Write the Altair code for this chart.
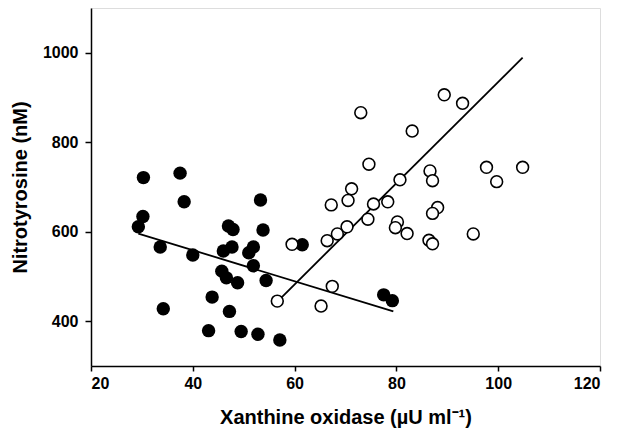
import altair as alt
import pandas as pd

# Filled circles (group 1)
filled_x = [30.3, 37.5, 38.3, 30.2, 29.3, 33.6, 40.0, 53.3, 47.0, 47.9, 53.8, 47.7, 46.0, 51.9, 51.0,
            51.9, 45.7, 46.6, 48.8, 54.4, 61.5, 43.8, 34.2, 47.2, 43.1, 49.5, 52.8, 57.1, 77.5, 79.2]
filled_y = [721, 731, 667, 634, 611, 566, 548, 671, 613, 605, 604, 566, 557, 566, 553,
            524, 512, 497, 486, 491, 571, 454, 428, 422, 379, 377, 371, 358, 459, 446]

# Open circles (group 2)
open_x = [73.0, 89.4, 93.0, 83.1, 74.6, 86.6, 87.1, 97.7, 104.8, 99.7, 80.7, 71.2, 70.5, 67.2, 75.5,
          78.3, 74.4, 70.3, 68.4, 66.4, 59.5, 88.1, 87.1, 80.2, 79.8, 82.1, 86.4, 87.1, 95.1, 67.4,
          65.2, 56.6]
open_y = [866, 906, 887, 825, 751, 736, 714, 744, 744, 712, 716, 696, 670, 660, 662,
          667, 628, 611, 595, 580, 572, 654, 641, 622, 609, 596, 581, 573, 595, 478,
          434, 445]

# Regression lines (end points)
fit_filled_x = [29.3, 79.4]
fit_filled_y = [596, 422]
fit_open_x = [57.5, 104.8]
fit_open_y = [454, 989]

x_ticks = [20, 40, 60, 80, 100, 120]
y_ticks = [400, 600, 800, 1000]

df_f = pd.DataFrame({"x": filled_x, "y": filled_y})
df_o = pd.DataFrame({"x": open_x, "y": open_y})
df_lf = pd.DataFrame({"x": fit_filled_x, "y": fit_filled_y})
df_lo = pd.DataFrame({"x": fit_open_x, "y": fit_open_y})

FONT = "Liberation Sans"

xenc = alt.X("x:Q", scale=alt.Scale(domain=[20, 120], nice=False, zero=False),
             axis=alt.Axis(values=x_ticks, format="d", title="Xanthine oxidase (µU ml⁻¹)", grid=False,
                           domainColor="black", domainWidth=1.5, tickColor="black", tickWidth=1.5,
                           tickSize=5, labelFont=FONT, labelFontSize=16, labelFontWeight="bold",
                           labelColor="black", labelPadding=4, titleFont=FONT, titleFontSize=20,
                           titleFontWeight="bold", titleColor="black", titlePadding=16))
yenc = alt.Y("y:Q", scale=alt.Scale(domain=[300, 1100], nice=False, zero=False),
             axis=alt.Axis(values=y_ticks, format="d", title="Nitrotyrosine (nM)", grid=False,
                           domainColor="black", domainWidth=1.5, tickColor="black", tickWidth=1.5,
                           tickSize=6, labelFont=FONT, labelFontSize=16, labelFontWeight="bold",
                           labelColor="black", labelPadding=7, titleFont=FONT, titleFontSize=20,
                           titleFontWeight="bold", titleColor="black", titlePadding=12))

lines_f = alt.Chart(df_lf).mark_line(color="black", strokeWidth=1.8).encode(x=xenc, y=yenc)
lines_o = alt.Chart(df_lo).mark_line(color="black", strokeWidth=1.8).encode(x=xenc, y=yenc)
pts_f = alt.Chart(df_f).mark_circle(color="black", size=180, opacity=1).encode(x=xenc, y=yenc)
pts_o = alt.Chart(df_o).mark_point(shape="circle", filled=True, fill="white", stroke="black",
                                   strokeWidth=1.6, size=140, opacity=1).encode(x=xenc, y=yenc)

chart = (lines_f + lines_o + pts_f + pts_o).properties(
    width=509, height=358,
    autosize=alt.AutoSizeParams(type="none"),
    padding={"left": 83, "top": 0, "right": 16, "bottom": 70},
).configure_view(stroke="black", strokeWidth=1.5).configure(background="white")

chart.save("out.html", embed_options={"renderer": "svg", "actions": False})
